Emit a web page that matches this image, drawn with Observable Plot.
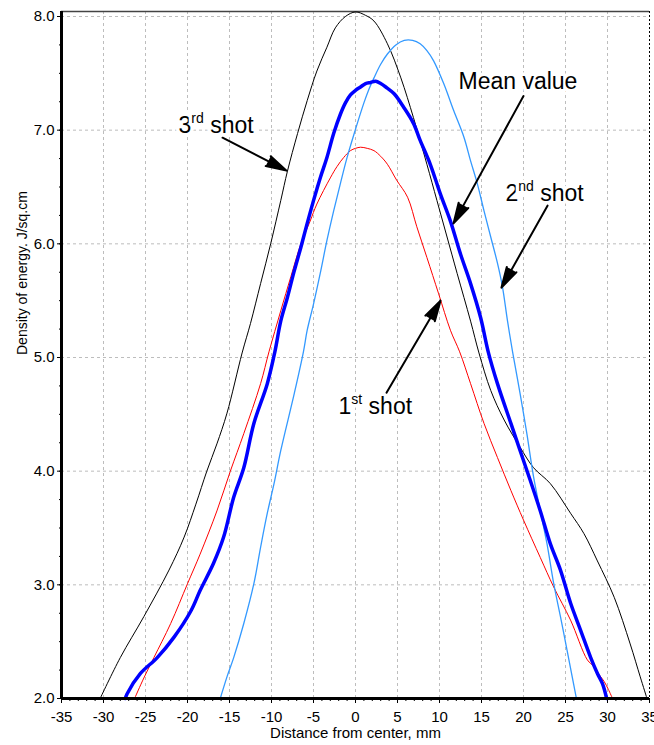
<!DOCTYPE html>
<html><head><meta charset="utf-8">
<script src="https://cdn.jsdelivr.net/npm/d3@7"></script>
<script src="https://cdn.jsdelivr.net/npm/@observablehq/plot@0.6"></script>
<style>html,body{margin:0;padding:0;background:#fff;} svg text{white-space:pre;}</style>
</head><body><div id="chart"></div>
<script>
// ---- data ----
const shot1X = [-26.3,-25.2,-24.0,-22.0,-20.0,-18.5,-16.5,-14.9,-13.3,-11.3,-10.3,-8.9,-7.7,-6.5,-5.4,-4.6,-3.0,-2.2,-1.4,-0.6,0.0,0.6,1.4,2.2,3.0,3.8,4.9,6.2,7.3,8.5,9.9,11.3,12.4,13.7,15.3,16.9,18.5,20.0,22.0,23.6,25.6,27.6,28.4,29.0,29.6,30.1,30.6];
const shot1Y = [2.0,2.18,2.36,2.66,3.01,3.27,3.65,4.0,4.33,4.77,5.05,5.41,5.71,6.0,6.20,6.35,6.58,6.68,6.76,6.82,6.84,6.85,6.84,6.82,6.77,6.70,6.56,6.41,6.15,5.88,5.56,5.24,5.05,4.77,4.42,4.12,3.83,3.57,3.24,2.98,2.69,2.34,2.28,2.21,2.15,2.08,2.0];

const shot2X = [-16.1,-15.3,-14.5,-13.3,-12.1,-11.3,-10.5,-9.7,-8.9,-7.3,-6.2,-5.75,-5.0,-4.2,-3.4,-2.6,-1.8,-1.0,-0.2,1.0,1.6,2.2,3.0,3.8,4.8,5.8,6.8,7.7,8.5,9.3,10.5,11.7,12.9,13.7,14.5,15.3,16.1,16.9,17.5,18.1,18.7,19.6,20.4,21.2,22.0,22.8,23.6,24.4,25.2,25.8,26.3];
const shot2Y = [2.0,2.19,2.36,2.66,3.01,3.33,3.63,3.89,4.18,4.68,5.05,5.24,5.47,5.74,6.03,6.29,6.53,6.76,6.96,7.24,7.36,7.46,7.58,7.67,7.75,7.79,7.79,7.76,7.70,7.61,7.41,7.17,6.94,6.73,6.53,6.29,6.06,5.83,5.62,5.32,5.05,4.68,4.33,3.95,3.65,3.36,3.01,2.72,2.42,2.19,2.0];

const shot3X = [-30.4,-28.0,-25.2,-22.2,-20.4,-19.0,-17.7,-16.5,-15.3,-13.5,-12.5,-11.3,-10.1,-8.9,-8.1,-6.9,-5.75,-4.6,-3.4,-2.4,-1.2,0.0,1.2,2.2,3.8,5.4,6.9,8.5,9.7,10.9,12.1,13.7,14.7,16.1,17.7,19.6,21.2,23.2,25.6,27.2,28.8,30.8,32.7,33.9,34.7];
const shot3Y = [2.0,2.36,2.72,3.13,3.42,3.71,4.0,4.24,4.51,5.04,5.30,5.65,6.0,6.38,6.64,6.97,7.26,7.52,7.73,7.90,8.00,8.04,8.01,7.96,7.76,7.46,7.11,6.70,6.38,6.06,5.74,5.32,5.04,4.71,4.45,4.21,4.03,3.89,3.63,3.45,3.21,2.89,2.48,2.19,2.0];

const meanX = [-27.4,-27.2,-25.6,-23.6,-21.6,-19.6,-18.5,-16.9,-15.7,-14.5,-13.3,-12.1,-10.5,-9.6,-8.9,-8.1,-7.3,-6.5,-5.75,-5.0,-4.2,-3.4,-2.6,-1.8,-1.2,-0.6,0.0,0.6,1.2,1.8,2.4,3.0,3.6,4.6,5.75,6.9,7.7,8.9,10.1,11.3,12.5,13.7,14.9,15.8,16.9,18.5,19.6,20.8,22.0,23.2,24.4,25.6,26.8,28.0,28.8,29.4,29.9];
const meanY = [2.0,2.04,2.22,2.36,2.54,2.77,2.95,3.19,3.42,3.77,4.03,4.42,4.77,5.05,5.32,5.53,5.76,5.97,6.18,6.38,6.58,6.76,6.97,7.14,7.24,7.31,7.35,7.38,7.41,7.42,7.43,7.41,7.38,7.32,7.20,7.06,6.91,6.70,6.44,6.20,5.91,5.65,5.35,5.05,4.77,4.42,4.18,3.92,3.65,3.36,3.13,2.84,2.60,2.36,2.22,2.13,2.0];

const xTicks = [-35,-30,-25,-20,-15,-10,-5,0,5,10,15,20,25,30,35];
const xTickLabels = ["-35","-30","-25","-20","-15","-10","-5","0","5","10","15","20","25","30","35"];
const yTicks = [2,3,4,5,6,7,8];
const yTickLabels = ["2.0","3.0","4.0","5.0","6.0","7.0","8.0"];
const xMinorTicks = d3.range(-35, 36, 1);
const yMinorTicks = d3.range(2, 8.01, 0.25);
const xGrid = [-30,-25,-20,-15,-10,-5,0,5,10,15,20,25,30];
const yGrid = [3,4,5,6,7,8];
const xDomain = [-35, 35];
const yDomain = [2, 8.044];
const xTitle = "Distance from center, mm";
const yTitle = "Density of energy. J/sq.cm";

// annotations (data units)
const annoMain = ["3", "Mean value", "2", "1"];
const annoSup  = ["rd", "", "nd", "st"];
const annoRest = [" shot", "", " shot", " shot"];
const annoX = [-21.07, 12.26, 17.86, -2.02];
const annoY = [6.975, 7.365, 6.38, 4.507];
const arrowX1 = [-15.83, 20.0, 22.86, 3.69];
const arrowY1 = [6.934, 7.30, 6.336, 4.69];
const arrowX2 = [-8.21, 11.67, 17.38, 10.12];
const arrowY2 = [6.644, 6.18, 5.615, 5.50];

// ---- build ----
const rows = (xs, ys) => xs.map((x, i) => ({x, y: ys[i]}));
const idx = annoMain.map((_, i) => i);
const annoFull = idx.map(i => annoMain[i] + annoSup[i] + annoRest[i]);
const font = "'Liberation Sans', Arial, Helvetica, sans-serif";

const plot = Plot.plot({
  width: 654, height: 745,
  marginLeft: 61, marginRight: 5, marginTop: 11, marginBottom: 47,
  style: {fontFamily: font, fontSize: "15px", color: "#000", background: "#fff"},
  x: {domain: xDomain, label: null},
  y: {domain: yDomain, label: null},
  marks: [
    Plot.gridX(xGrid, {stroke: "#bdbdbd", strokeOpacity: 1, strokeDasharray: "3,3"}),
    Plot.gridY(yGrid, {stroke: "#bdbdbd", strokeOpacity: 1, strokeDasharray: "3,3"}),
    Plot.gridX([xDomain[1]], {stroke: "#000", strokeOpacity: 1, strokeDasharray: "2,2"}),
    Plot.ruleY([yDomain[1]], {stroke: "#444", strokeWidth: 1.5}),
    Plot.axisX(xMinorTicks, {tickSize: 3, tickFormat: () => "", label: null}),
    Plot.axisY(yMinorTicks, {tickSize: 2, tickFormat: () => "", label: null}),
    Plot.axisX(xTicks, {tickSize: 5, tickPadding: 8, fontSize: 15, tickFormat: d => xTickLabels[xTicks.indexOf(d)], label: null}),
    Plot.axisY(yTicks, {tickSize: 4, tickPadding: 3, fontSize: 15, tickFormat: d => yTickLabels[yTicks.indexOf(d)], label: null}),
    Plot.text([xTitle], {frameAnchor: "bottom", dy: 35, lineAnchor: "middle", fontSize: 15, fill: "#000"}),
    Plot.text([yTitle], {frameAnchor: "left", dx: -39, rotate: -90, lineAnchor: "middle", fontSize: 14, fill: "#000"}),
    Plot.line(rows(shot3X, shot3Y), {x: "x", y: "y", stroke: "#000", strokeWidth: 1, curve: "catmull-rom"}),
    Plot.line(rows(shot1X, shot1Y), {x: "x", y: "y", stroke: "#ff0000", strokeWidth: 1, curve: "catmull-rom"}),
    Plot.line(rows(shot2X, shot2Y), {x: "x", y: "y", stroke: "#3399ff", strokeWidth: 1.3, curve: "catmull-rom"}),
    Plot.line(rows(meanX, meanY), {x: "x", y: "y", stroke: "#0000ff", strokeWidth: 3.5, curve: "catmull-rom"}),
    Plot.ruleX([xDomain[0]], {stroke: "#000", strokeWidth: 3}),
    Plot.ruleY([yDomain[0]], {stroke: "#000", strokeWidth: 3}),
    Plot.text(idx, {x: i => annoX[i], y: i => annoY[i], text: i => annoFull[i], textAnchor: "start", lineAnchor: "bottom",
      fontSize: 23, fill: "#000", stroke: "#fff", strokeWidth: 7, paintOrder: "stroke"}),
    Plot.arrow(idx, {x1: i => arrowX1[i], y1: i => arrowY1[i], x2: i => arrowX2[i], y2: i => arrowY2[i],
      stroke: "#000", fill: "#000", strokeWidth: 2, headLength: 16, headAngle: 30})
  ]
});

// superscripts for ordinal labels
const ns = "http://www.w3.org/2000/svg";
plot.querySelectorAll("text").forEach(t => {
  const i = annoFull.indexOf(t.textContent);
  if (i < 0 || !annoSup[i]) return;
  t.textContent = "";
  const a = document.createElementNS(ns, "tspan"); a.textContent = annoMain[i];
  const b = document.createElementNS(ns, "tspan"); b.textContent = annoSup[i];
  b.setAttribute("font-size", "14"); b.setAttribute("dy", "-10");
  const c = document.createElementNS(ns, "tspan"); c.textContent = annoRest[i];
  c.setAttribute("dy", "10");
  t.append(a, b, c);
});

document.getElementById("chart").append(plot);
</script>
</body></html>
